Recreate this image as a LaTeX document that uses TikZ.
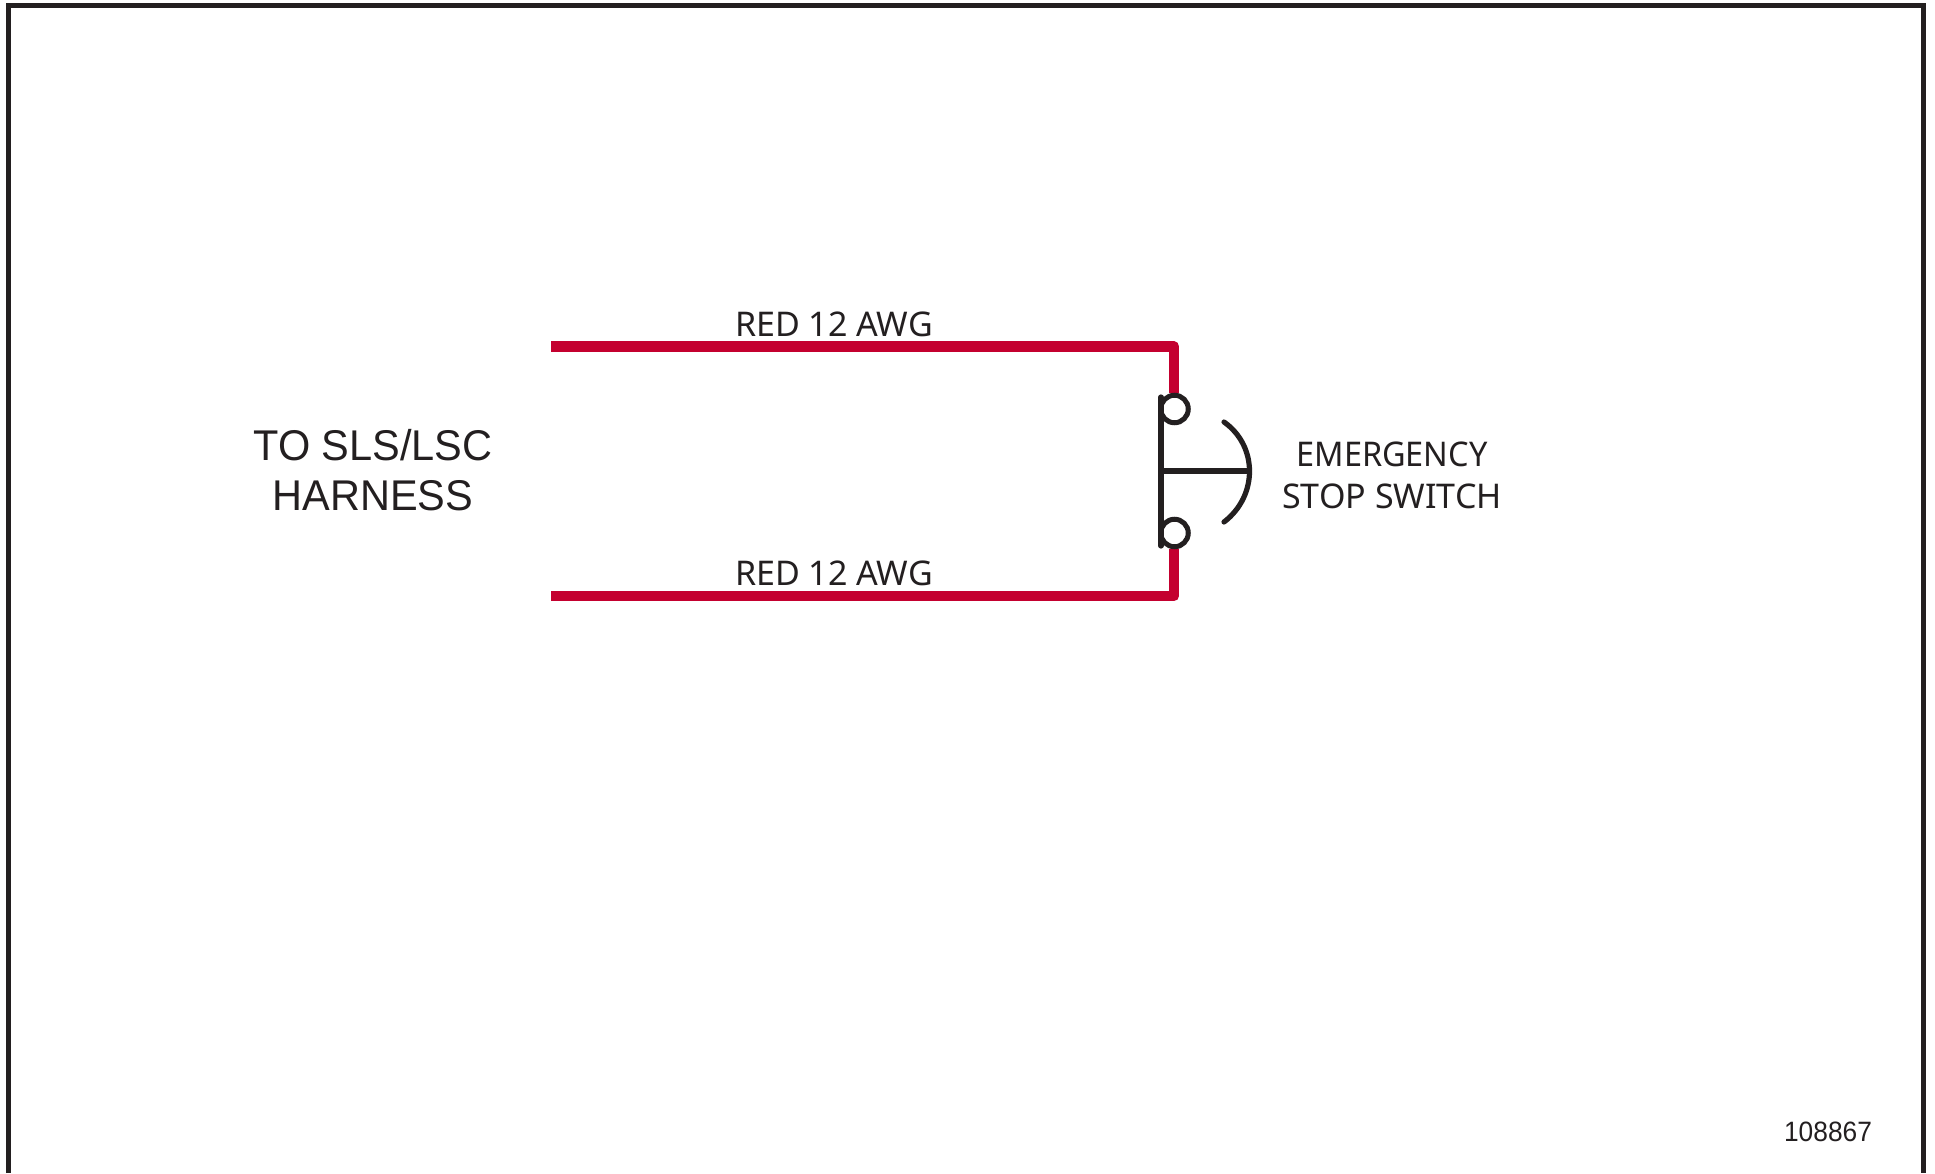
\documentclass[tikz,border=0pt]{standalone}
\usepackage{fontspec}
\usetikzlibrary{backgrounds}
\setmainfont{Liberation Sans}
\newfontfamily\tahomalike{Noto Sans}
\definecolor{inkblack}{HTML}{231F20}
\definecolor{wirered}{HTML}{C4002F}
\tikzset{
  framerule/.style={draw=inkblack,line width=5pt},
  wire/.style={draw=wirered,line width=10.5pt,line join=round},
  symbolline/.style={draw=inkblack,line width=5.2pt,line cap=round},
  terminal/.style={circle,draw=inkblack,fill=white,line width=5pt,minimum size=27.5pt,inner sep=0pt},
  arialtext/.style={text=inkblack,inner sep=0pt,align=center,font=\fontsize{43}{49.5}\selectfont},
  labeltext/.style={text=inkblack,inner sep=0pt,align=center,font=\tahomalike\fontsize{34}{42}\selectfont},
  idtext/.style={text=inkblack,inner sep=0pt,font=\fontsize{28}{32}\selectfont}
}
\begin{document}
\begin{tikzpicture}[x=1pt,y=-1pt]
\useasboundingbox (0,0) rectangle (1935,1173);
% frame (open at the bottom edge)
\coordinate (fbl) at (8.5,1173);
\coordinate (ftl) at (8.5,5.5);
\coordinate (ftr) at (1923.5,5.5);
\coordinate (fbr) at (1923.5,1173);
\draw[framerule] (fbl) -- (ftl) -- (ftr) -- (fbr);
% terminals
\node[terminal] (t1) at (1174.5,409) {};
\node[terminal] (t2) at (1174.5,533) {};
% wires, behind the terminals
\coordinate (w1) at (551,346.5);
\coordinate (c1) at (1174,346.5);
\coordinate (w2) at (551,596);
\coordinate (c2) at (1174,596);
\begin{pgfonlayer}{background}
\fill[white] (0,0) rectangle (1935,1173);
\draw[wire] (w1) -- (c1) -- (t1.north -| c1);
\draw[wire] (w2) -- (c2) -- (t2.south -| c2);
\end{pgfonlayer}
% switch symbol
\coordinate (bt) at (1161,397);
\coordinate (bb) at (1161,546);
\coordinate (bm) at (1161,471);
\coordinate (am) at (1249,471);
\coordinate (a1) at (1224,422);
\coordinate (a2) at (1224,522);
\draw[symbolline] (bt) -- (bb);
\draw[symbolline] (bm) -- (am);
\draw[symbolline] (a1) .. controls (1258,446) and (1258,496) .. (a2);
% labels
\node[arialtext] (harness) at (373,470) {\scalebox{0.965}[1]{TO SLS/LSC}\\\scalebox{0.965}[1]{HARNESS}};
\node[labeltext,anchor=base] (red1) at (834,336) {RED 12 AWG};
\node[labeltext,anchor=base] (red2) at (834,585) {RED 12 AWG};
\node[labeltext] (estop) at (1392,475) {\scalebox{0.955}[1]{EMERGENCY}\\STOP SWITCH};
\node[idtext,anchor=base] (id) at (1828,1141) {\scalebox{0.94}[1]{108867}};
\end{tikzpicture}
\end{document}
